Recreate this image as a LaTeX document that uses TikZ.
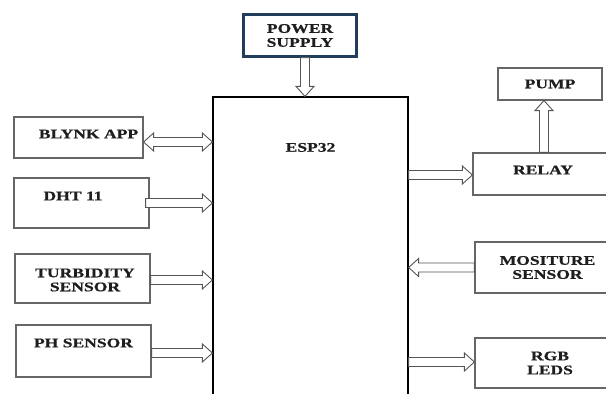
\documentclass[tikz,border=0pt]{standalone}
\usepackage{fontspec}
\setmainfont{Liberation Serif}[FakeStretch=1.33, FakeBold=0.6]
\usetikzlibrary{calc}
\definecolor{boxgray}{HTML}{666666}
\definecolor{arrgray}{HTML}{555555}
\definecolor{psblue}{HTML}{223D5A}
\definecolor{txt}{HTML}{1E1E1E}
\tikzset{
  box/.style={draw=boxgray, line width=1.2pt, rectangle, inner sep=0pt, text=txt},
  lbl/.style={font=\fontsize{13.2}{14}\selectfont\bfseries, align=center, text=txt},
  arr/.style={draw=arrgray, line width=0.9pt, fill=white, line join=miter},
}
\newcommand\hollowarrow[2]{%
  \coordinate (ha) at (#1); \coordinate (hb) at (#2);
  \coordinate (hh) at ($(hb)!10pt!(ha)$);
  \draw[arr] ($(ha)!4.5pt!90:(hb)$) -- ($(hh)!4.5pt!-90:(ha)$) -- ($(hh)!9pt!-90:(ha)$) -- (hb)
    -- ($(hh)!9pt!90:(ha)$) -- ($(hh)!4.5pt!90:(ha)$) -- ($(ha)!4.5pt!-90:(hb)$) -- cycle;}
\newcommand\hollowdoublearrow[2]{%
  \coordinate (ha) at (#1); \coordinate (hb) at (#2);
  \coordinate (hh) at ($(hb)!10pt!(ha)$);
  \coordinate (hg) at ($(ha)!10pt!(hb)$);
  \draw[arr] (ha) -- ($(hg)!9pt!90:(hb)$) -- ($(hg)!4.5pt!90:(hb)$) -- ($(hh)!4.5pt!-90:(ha)$) -- ($(hh)!9pt!-90:(ha)$) -- (hb)
    -- ($(hh)!9pt!90:(ha)$) -- ($(hh)!4.5pt!90:(ha)$) -- ($(hg)!4.5pt!-90:(hb)$) -- ($(hg)!9pt!-90:(hb)$) -- cycle;}
\begin{document}
\begin{tikzpicture}[x=1pt,y=-1pt]
\useasboundingbox (0,0) rectangle (606,394);
\fill[white] (0,0) rectangle (606,394);
\clip (0,0) rectangle (606,394);

% ESP32
\node[draw=black, line width=1.2pt, minimum width=195pt, minimum height=320pt, inner sep=0pt,
      label={[lbl, yshift=-59pt]north:ESP32}] (esp) at (310.5,257) {};

% power supply
\node[draw=psblue, line width=2.4pt, minimum width=113pt, minimum height=42pt, inner sep=0pt, lbl] (power) at (300,35.5) {POWER\\SUPPLY};

% left column
\node[box, minimum width=129pt, minimum height=41pt, label={[lbl, xshift=10pt, yshift=3.5pt]center:BLYNK APP}] (blynk) at (78.5,137.5) {};
\node[box, minimum width=135pt, minimum height=50pt, label={[lbl, xshift=-8.5pt, yshift=7pt]center:DHT 11}] (dht) at (81.5,203) {};
\node[box, minimum width=135pt, minimum height=49pt, label={[lbl, xshift=2.5pt, yshift=-1.5pt]center:TURBIDITY\\SENSOR}] (turb) at (82.5,278.5) {};
\node[box, minimum width=135pt, minimum height=52pt, label={[lbl, yshift=8pt]center:PH SENSOR}] (ph) at (83.5,351) {};

% right column
\node[box, minimum width=104pt, minimum height=32pt, lbl] (pump) at (550,84) {PUMP};
\node[box, minimum width=140pt, minimum height=42pt, label={[lbl, yshift=4pt]center:RELAY}] (relay) at (543,174) {};
\node[box, minimum width=145pt, minimum height=51pt, lbl] (moist) at (547.5,267.5) {MOSITURE\\SENSOR};
\node[box, minimum width=150pt, minimum height=50pt, lbl] (rgb) at (550,363) {RGB\\LEDS};

% arrows
\coordinate (ps) at ([xshift=5pt]power.south);
\hollowarrow{ps}{ps |- esp.north}
\hollowdoublearrow{[yshift=-4.5pt]blynk.east}{[yshift=-4.5pt]blynk.east -| esp.west}
\hollowarrow{[xshift=-4pt]dht.east}{dht.east -| esp.west}
\hollowarrow{[yshift=-1.5pt]turb.east}{[yshift=-1.5pt]turb.east -| esp.west}
\hollowarrow{[yshift=-2pt]ph.east}{[yshift=-2pt]ph.east -| esp.west}
\hollowarrow{[yshift=-1pt]relay.west -| esp.east}{[yshift=-1pt]relay.west}
\hollowarrow{moist.west}{moist.west -| esp.east}
\hollowarrow{[yshift=1pt]rgb.west -| esp.east}{[yshift=1pt]rgb.west}
\coordinate (pa) at ([xshift=-6pt]pump.south);
\hollowarrow{pa |- relay.north}{pa}
\end{tikzpicture}
\end{document}
